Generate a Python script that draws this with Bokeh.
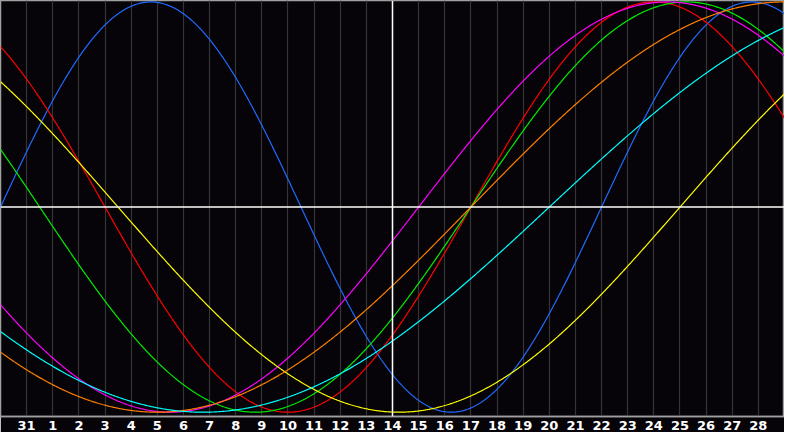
import numpy as np
from bokeh.plotting import figure
from bokeh.models import Range1d, Span, FixedTicker
from bokeh.embed import file_html
from bokeh.resources import INLINE

# biorhythm cycles (length in days) and their colours
cycle_names = ["physical", "emotional", "intellectual", "intuitive",
               "aesthetic", "awareness", "spiritual"]
cycle_days = [23, 28, 33, 38, 43, 48, 53]
cycle_colors = ["#1f6bff", "#ff0000", "#00ee00", "#ff00ff",
                "#ffff00", "#ff8000", "#00ffff"]

# days alive at the left edge of the chart (30th of previous month)
first_day = 14766
# day-of-month labels for the ticks
day_labels = ["31"] + [str(d) for d in range(1, 29)]
today_label = "14"

BG = "#060409"

p = figure(width=784,
           height=432,
           output_backend="svg",
           toolbar_location=None,
           x_range=Range1d(first_day, first_day + 30),
           y_range=Range1d(-1.021, 1.007),
           background_fill_color=BG,
           border_fill_color=BG,
           min_border_left=0,
           min_border_right=0,
           min_border_top=0,
           min_border_bottom=0)

p.outline_line_color = "#a0a0a0"
p.outline_line_width = 1.5

ticks = [first_day + 1 + i for i in range(len(day_labels))]

#x axis with day labels
p.xaxis.ticker = FixedTicker(ticks=ticks)
p.xaxis.major_label_overrides = {t: lab for t, lab in zip(ticks, day_labels)}
p.xaxis.axis_line_color = "#a0a0a0"
p.xaxis.axis_line_width = 1.5
p.xaxis.major_tick_line_color = None
p.xaxis.minor_tick_line_color = None
p.xaxis.major_tick_out = 0
p.xaxis.major_label_standoff = 4
p.xaxis.major_label_text_color = "white"
p.xaxis.major_label_text_font = "DejaVu Sans"
p.xaxis.major_label_text_font_style = "bold"
p.xaxis.major_label_text_font_size = "13px"
p.yaxis.visible = False

#grid
p.xgrid.ticker = FixedTicker(ticks=ticks)
p.xgrid.grid_line_color = "#343434"
p.xgrid.grid_line_width = 1.2
p.ygrid.grid_line_color = None

#zero line and today marker
p.add_layout(Span(location=0, dimension="width",
                  line_color="white", line_width=1.5))
today = ticks[day_labels.index(today_label)]
p.add_layout(Span(location=today, dimension="height",
                  line_color="white", line_width=1.5))

#cycles
t = np.linspace(first_day, first_day + 30, 901)
for name, days, color in zip(cycle_names, cycle_days, cycle_colors):
    p.line(t, np.sin(2 * np.pi * t / days),
           line_color=color, line_width=1.2)

open("out.html", "w").write(file_html(p, INLINE))
